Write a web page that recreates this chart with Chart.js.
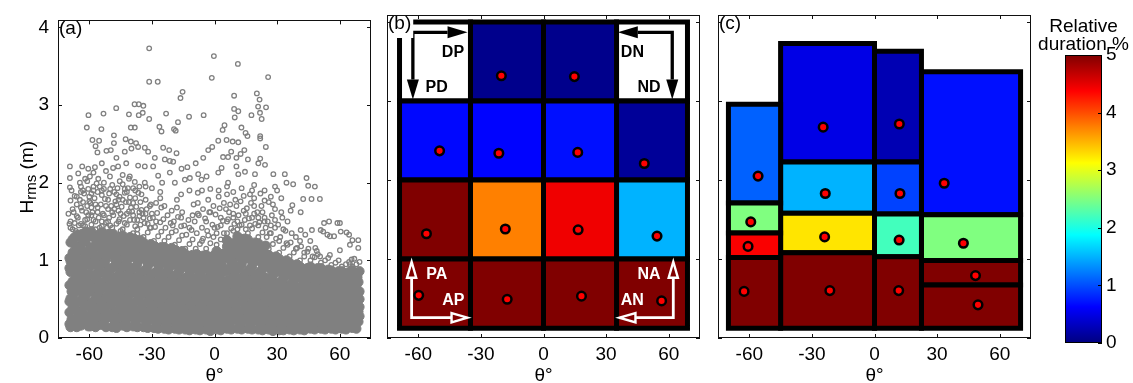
<!DOCTYPE html>
<html><head><meta charset="utf-8"><title>Hrms vs wave direction</title>
<script src="https://cdn.jsdelivr.net/npm/chart.js@4.4.1/dist/chart.umd.min.js"></script>
<style>
html,body{margin:0;padding:0;background:#fff;}
body{position:relative;width:1133px;height:383px;overflow:hidden;font-family:'Liberation Sans',Arial,sans-serif;}
canvas{position:absolute;top:0;}
</style></head><body>
<canvas id="pa" width="380" height="383" style="left:0px"></canvas>
<canvas id="pb" width="330" height="383" style="left:380px"></canvas>
<canvas id="pc" width="330" height="383" style="left:710px"></canvas>
<canvas id="cb" width="103" height="383" style="left:1030px"></canvas>
<script>
// ---------------- text & ticks ----------------
const xTickValues = [-60, -30, 0, 30, 60];
const hTickValues = [0, 1, 2, 3, 4];
const durationTickValues = [0, 1, 2, 3, 4, 5];
const xAxisLabel = 'θ°';
const yAxisLabelParts = ['H', 'rms', ' (m)'];
const colourbarTitle = ['Relative', 'duration %'];

// ---------------- panel (a): scatter of Hrms (m) vs theta (deg) ----------------
// isolated points, [theta, Hrms]
const sparseOutliers = [
[-31.3,3.73],[-0.3,3.63],[11.2,3.53],[-1.3,3.35],[25.7,3.36],[-31.3,3.30],[-27.2,3.30],[-15.3,3.17],[-16.3,3.09],[9.4,3.12],
[20.3,3.15],[21.6,3.07],[-38.3,3.01],[-36.3,3.01],[-34.1,2.99],[-34.4,2.90],[-36.3,2.87],[-47.1,2.96],[-53.2,2.89],[-60.4,2.87],
[-41.0,2.88],[-31.3,2.82],[-23.2,2.89],[-12.2,2.85],[-5.2,2.87],[9.4,2.95],[11.4,2.92],[9.7,2.84],[17.7,2.87],[20.9,2.98],
[24.7,2.97],[21.8,2.90],[22.6,2.82],[-61.2,2.71],[-54.2,2.69],[-48.2,2.61],[-40.1,2.71],[-38.2,2.71],[-26.4,2.72],[-25.4,2.66],
[-19.4,2.69],[-18.6,2.67],[-17.5,2.78],[3.9,2.68],[4.8,2.74],[12.9,2.71],[14.9,2.64],[15.8,2.60],[21.9,2.60],[-55.3,2.54],
[-48.2,2.51],[-42.6,2.56],[-40.1,2.53],[-37.6,2.51],[1.8,2.54],[5.8,2.55],[8.7,2.53],[11.4,2.52],[-57.0,2.47],[-51.8,2.41],
[-49.7,2.42],[-56.1,2.39],[-33.4,2.45],[-36.6,2.46],[-31.8,2.40],[-24.6,2.45],[-21.7,2.42],[-18.2,2.38],[-28.6,2.32],[-39.8,2.44],
[14.3,2.42],[21.9,2.57],[24.6,2.46],[-5.4,2.32],[-3.0,2.42],[-1.1,2.46],[4.1,2.33],[6.5,2.33],[10.5,2.32],[21.9,2.31],
[-69.3,2.21],[-63.4,2.21],[-60.5,2.18],[-57.3,2.20],[-48.6,2.19],[-46.2,2.21],[-42.3,2.25],[-36.6,2.22],[-33.4,2.21],[-29.4,2.21],
[-23.8,2.30],[-21.4,2.28],[-19.8,2.27],[-15.8,2.18],[-69.3,2.06],[-65.3,2.12],[-59.7,2.08],[-55.7,2.05],[-50.1,2.08],[-45.4,2.02],
[-40.6,2.08],[-38.2,2.01],[-33.4,2.00],[-27.0,2.09],[-25.1,2.00],[-21.4,2.13],[-19.0,2.00],[-14.2,2.04],[-11.8,2.06],[-7.8,2.11],
[-6.2,2.04],[-3.8,2.08],[1.8,2.13],[3.4,2.19],[6.5,2.00],[10.5,2.21],[11.4,2.11],[14.6,2.14],[19.4,2.11],[21.0,2.25],
[24.2,2.23],[28.2,2.11],[33.7,2.11],[37.7,1.98],[34.5,2.00],[44.1,2.06],[44.9,1.96],[48.1,1.95],[-69.3,1.94],[-64.5,2.00],
[42.5,1.79],[46.5,1.79],[50.5,1.79],[37.3,1.71],[36.5,1.64],[41.3,1.62],[52.5,1.48],[54.9,1.50],[58.9,1.48],[50.9,1.39],
[54.1,1.33],[57.3,1.31],[60.5,1.37],[64.5,1.33],[66.1,1.26],[41.3,1.39],[60.1,1.48],[63.3,1.36],[68.9,1.26],[64.9,1.20],
[68.9,1.16],[52.1,1.37],[55.3,1.31],[46.7,1.39],[43.5,1.33],[45.9,1.25],[48.3,1.16],[50.6,1.05],[55.3,1.07],[60.1,1.13],
[65.7,1.01],[64.9,0.95],[-16,1.85],[-12,1.9],[-8,1.87],[-2,1.92],[2,1.9],[6,1.95],[9,1.88],[13,1.93],
[17,1.85],[19,1.97],[24,1.9],[27,1.82],[29,1.95],[-26,1.88],[-30,1.93],[-44,2.1],[-52,2.15],[-58,2.13],
[-62,2.05],[-54,2.25],[-47,2.32],[-43,2.4],[-58.5,2.55],[8,2.4],[12.5,2.37],[16,2.3],[-9,2.25],[-13,2.2],
[30,1.9],[32,1.8],[28,1.72],[32,1.62],[35,1.5]
];
// band just above the dense core, flat [theta, Hrms, theta, Hrms, ...]
const midCloud = [
-69,1.42,-67,1.48,-65.5,1.55,-70,1.6,-68,1.66,-66,1.72,-69,1.5,-66.5,1.38,
-64,1.47,-62,1.52,-60.5,1.58,-63.5,1.64,-61,1.7,-64.5,1.78,-62.5,1.86,-60.5,1.92,-63,1.45,-61.5,1.62,-64,1.95,
-59,1.46,-57,1.5,-55.5,1.55,-58.5,1.62,-56,1.68,-59.5,1.74,-57.5,1.8,-56,1.88,-58,1.95,-56.5,1.99,-59,1.58,
-54,1.44,-52,1.49,-50.5,1.55,-53.5,1.6,-51,1.66,-54.5,1.72,-52.5,1.79,-50.5,1.86,-53,1.92,-51.5,1.42,-54,1.84,
-49,1.42,-47,1.47,-45.5,1.53,-48.5,1.58,-46,1.64,-49.5,1.7,-47.5,1.76,-45.5,1.82,-48,1.88,-46.5,1.93,-49,1.97,
-44,1.4,-42,1.46,-40.5,1.52,-43.5,1.57,-41,1.63,-44.5,1.69,-42.5,1.75,-40.5,1.81,-43,1.87,-41.5,1.93,-44,1.98,
-39,1.35,-37,1.4,-35.5,1.46,-38.5,1.52,-36,1.57,-39.5,1.63,-37.5,1.69,-35.5,1.75,-38,1.8,-36.5,1.87,-39,1.93,
-34,1.3,-32,1.36,-30.5,1.42,-33.5,1.48,-31,1.54,-34.5,1.6,-32.5,1.66,-30.5,1.72,-33,1.78,
-29,1.25,-27,1.31,-25.5,1.37,-28.5,1.43,-26,1.49,-29.5,1.55,-27.5,1.61,-25.5,1.68,-28,1.74,
-24,1.25,-22,1.3,-20.5,1.36,-23.5,1.42,-21,1.48,-24.5,1.53,-22.5,1.58,-20.5,1.64,
-19,1.2,-17,1.26,-15.5,1.32,-18.5,1.38,-16,1.44,-19.5,1.5,-17.5,1.56,-15.5,1.62,-18,1.68,
-14,1.15,-12,1.21,-10.5,1.27,-13.5,1.33,-11,1.39,-14.5,1.45,-12.5,1.52,-10.5,1.58,
-9,1.15,-7,1.21,-5.5,1.28,-8.5,1.35,-6,1.42,-9.5,1.5,-7.5,1.58,-5.5,1.66,-8,1.74,
-4,1.15,-2,1.22,-0.5,1.3,-3.5,1.38,-1,1.46,-4.5,1.54,-2.5,1.62,-0.5,1.7,-3,1.78,
1,1.2,3,1.27,4.5,1.35,1.5,1.43,4,1.51,0.5,1.59,2.5,1.67,4.5,1.74,
6,1.35,8,1.41,9.5,1.47,6.5,1.53,9,1.6,5.5,1.66,7.5,1.72,
11,1.4,13,1.46,14.5,1.52,11.5,1.58,14,1.64,10.5,1.7,12.5,1.76,
16,1.35,18,1.41,19.5,1.47,16.5,1.54,19,1.6,15.5,1.67,17.5,1.74,19,1.8,
21,1.3,23,1.36,24.5,1.42,21.5,1.49,24,1.55,20.5,1.62,22.5,1.7,24,1.77,
26,1.15,28,1.21,29.5,1.28,26.5,1.35,29,1.42,25.5,1.5,27.5,1.58,29,1.66,
31,1.1,33,1.16,34.5,1.22,31.5,1.3,34,1.38,30.5,1.46,32.5,1.55,
36,1.05,38,1.1,39.5,1.16,36.5,1.23,39,1.3,
41,1.0,43,1.05,44.5,1.11,41.5,1.18,
46,1.0,48,1.04,49.5,1.08,51,0.97,53,1.0,54.5,1.03,
56,0.94,58,0.97,59.5,1.0,61,0.92,63,0.95,64.5,0.98,66,0.92,68,0.95,69.5,0.98,67,1.02,
-68,1.4,-66,1.57,-64,1.68,-62,1.44,-60,1.76,-58,1.52,-56,1.62,-54,1.5,-52,1.7,-50,1.45,-48,1.66,-46,1.5,-44,1.78,-42,1.6,
-40,1.68,-38,1.44,-36,1.62,-34,1.55,-32,1.47,-30,1.6,-67,1.83,-63,1.9,-59,1.86,-55,1.95,-51,1.78,-47,1.85,-43,1.92,-39,1.74,
-35,1.85,-31,1.7,-65,1.35,-57,1.4,-53,1.36,-45,1.38,-37,1.34,-69,1.77,-61,2.02,-53,2.0,-41,2.05,-33,1.95,
1,1.35,3,1.55,5,1.25,7,1.62,9,1.38,11,1.5,13,1.3,15,1.6,17,1.45,19,1.7,21,1.55,23,1.62,25,1.3,27,1.45,29,1.52,
2,1.82,6,1.85,10,1.78,14,1.83,18,1.9,22,1.86,26,1.75,
-28,1.5,-24,1.7,-20,1.45,-16,1.55,-12,1.42,-8,1.6,-4,1.5,-26,1.8,-18,1.78,-10,1.72,-6,1.9,-2,1.62,
31,1.25,33,1.4,35,1.2,37,1.35,39,1.15,41,1.25,43,1.1,45,1.15,47,1.05,49,1.12,
-69.5,1.47,-67.5,1.62,-65,1.45,-63,1.75,-61,1.53,-59,1.68,-57,1.72,-55,1.42,-53,1.58,-51,1.5,-49,1.62,-47,1.72,-45,1.6,-43,1.48,
-41,1.75,-39,1.58,-37,1.52,-35,1.65,-33,1.6,-31,1.42,-68.5,1.9,-66,1.82,-64,1.88,-60,1.82,-58,1.9,-54,1.9,-50,1.92,-46,1.78,
-42,1.88,-38,1.9,-36,1.95,-6,1.25,-3,1.32,0,1.42,3,1.45,6,1.5,9,1.55,12,1.45,15,1.4,18,1.55,21,1.45,24,1.5,27,1.35
];
// dense core of the cloud (estimated), flat [theta, Hrms, ...]
const coreWest = [
-69,.14,-67,.2,-65.5,.27,-69.5,.33,-68,.39,-66,.45,-69,.51,-67.5,.56,-65.5,.62,-69.5,.68,-68,.73,-66.5,.79,-69,.85,-67,.91,-65.5,.97,-69.5,1.03,-68,1.1,-66,1.16,-69,1.23,-67,1.3,-65.5,1.33,-68.5,.24,-66.5,.36,-69.5,.47,-67.5,.66,-65.5,.84,-69,.99,-67,1.2,-66,.14,-68.5,.6,-69.5,.9,-66.5,1.07,-68,1.27,-69.5,.18,
-64,.16,-62.5,.22,-60.5,.29,-63.5,.35,-61.5,.41,-64.5,.48,-62,.53,-60.5,.59,-63,.65,-64.5,.71,-61.5,.76,-60.5,.83,-63.5,.88,-62,.94,-64,1.0,-61,1.06,-63,1.12,-64.5,1.18,-62,1.24,-60.5,1.3,-63.5,1.34,-61.5,1.37,-64,.3,-62.5,.44,-60.5,.15,-63,.56,-61.5,.68,-64,.8,-62,1.08,-60.5,.98,-63.5,1.27,-61,.19,-64.5,.92,-62.5,.62,
-59.5,.15,-57.5,.21,-56,.28,-58.5,.34,-55.5,.4,-59,.46,-57,.52,-55.5,.58,-58,.64,-59.5,.7,-56.5,.75,-58,.81,-55.5,.87,-59,.93,-57,.99,-56,1.05,-58.5,1.11,-59.5,1.17,-56.5,1.23,-57.5,1.29,-55.5,1.33,-59,1.37,-57.5,.38,-56,.5,-59.5,.6,-55.5,.71,-58,.95,-56.5,1.17,-59,1.31,-57,.14,-58.5,.25,-56,.83,-57.5,1.04,-59.5,.44,
-54.5,.17,-52.5,.23,-51,.3,-53.5,.36,-50.5,.42,-54,.47,-52,.53,-50.5,.6,-53,.66,-54.5,.72,-51.5,.78,-53.5,.84,-50.5,.9,-54,.95,-52,1.01,-51,1.07,-53.5,1.13,-54.5,1.19,-51.5,1.25,-52.5,1.31,-50.5,1.34,-54,1.36,-52.5,.39,-51,.51,-54.5,.63,-50.5,.74,-53,.97,-51.5,1.19,-54,1.28,-52,.14,-53.5,.27,-51,.86,-52.5,1.06,-54.5,.45,
-49,.14,-47.5,.19,-46,.26,-48.5,.32,-45.5,.37,-49.5,.43,-47,.49,-45.5,.55,-48,.61,-49,.67,-46.5,.72,-48,.78,-45.5,.84,-49.5,.89,-47,.95,-46,1.01,-48.5,1.07,-49,1.13,-46.5,1.19,-47.5,1.25,-45.5,1.3,-48.5,1.34,-47.5,.35,-46,.46,-49.5,.58,-45.5,.65,-48,.92,-46.5,1.1,-49,1.22,-47,.13,-48.5,.24,-46,.8,-47.5,1.0,-49.5,.76,
-44,.16,-42.5,.22,-41,.28,-43.5,.34,-40.5,.4,-44.5,.46,-42,.51,-40.5,.57,-43,.63,-44.5,.69,-41.5,.74,-43.5,.8,-40.5,.86,-44,.91,-42,.97,-41,1.03,-43.5,1.09,-44.5,1.15,-41.5,1.21,-42.5,1.27,-40.5,1.3,-44,1.32,-42.5,.37,-41,.48,-44.5,.6,-40.5,.71,-43,.94,-41.5,1.14,-44,1.25,-42,.14,-43.5,.26,-41,.83,-42.5,1.05,-44.5,.42,
-39,.15,-37.5,.21,-36,.27,-38.5,.33,-35.5,.38,-39.5,.44,-37,.5,-35.5,.56,-38,.61,-39,.67,-36.5,.73,-38,.78,-35.5,.84,-39.5,.9,-37,.95,-36,1.01,-38.5,1.07,-39,1.13,-36.5,1.19,-37.5,1.24,-35.5,1.26,-38.5,1.28,-37.5,.36,-36,.47,-39.5,.59,-35.5,.66,-38,.9,-36.5,1.1,-39,1.2,-37,.14,-38.5,.25,-36,.8,-37.5,1.02,-39.5,.75
];
const coreCentre = [
-34,.14,-32.5,.2,-31,.26,-33.5,.31,-30.5,.37,-34.5,.42,-32,.48,-30.5,.53,-33,.59,-34.5,.64,-31.5,.7,-33.5,.75,-30.5,.81,-34,.86,-32,.92,-31,.97,-33.5,1.03,-34.5,1.08,-31.5,1.14,-32.5,1.19,-30.5,1.21,-34,1.23,-32.5,.34,-31,.45,-34.5,.56,-30.5,.67,-33,.88,-31.5,1.06,-34,1.16,-32,.13,-33.5,.24,-31,.78,-32.5,.99,-34.5,.72,
-29,.13,-27.5,.19,-26,.24,-28.5,.3,-25.5,.35,-29.5,.4,-27,.46,-25.5,.51,-28,.56,-29,.62,-26.5,.67,-28,.72,-25.5,.78,-29.5,.83,-27,.88,-26,.94,-28.5,.99,-29,1.04,-26.5,1.1,-27.5,1.15,-25.5,1.17,-28.5,1.18,-27.5,.33,-26,.43,-29.5,.54,-25.5,.64,-28,.85,-26.5,1.02,-29,1.12,-27,.12,-28.5,.22,-26,.75,-27.5,.96,-29.5,.7,
-24,.12,-22.5,.18,-21,.24,-23.5,.29,-20.5,.34,-24.5,.4,-22,.45,-20.5,.5,-23,.56,-24.5,.61,-21.5,.66,-23.5,.72,-20.5,.77,-24,.82,-22,.88,-21,.93,-23.5,.98,-24.5,1.04,-21.5,1.09,-22.5,1.14,-20.5,1.16,-24,1.17,-22.5,.32,-21,.42,-24.5,.53,-20.5,.63,-23,.85,-21.5,1.01,-24,1.12,-22,.11,-23.5,.21,-21,.74,-22.5,.95,-24.5,.69,
-19,.12,-17.5,.17,-16,.23,-18.5,.28,-15.5,.33,-19.5,.38,-17,.44,-15.5,.49,-18,.54,-19,.59,-16.5,.64,-18,.7,-15.5,.75,-19.5,.8,-17,.85,-16,.9,-18.5,.95,-19,1.0,-16.5,1.05,-17.5,1.1,-15.5,1.12,-18.5,1.13,-17.5,.31,-16,.41,-19.5,.51,-15.5,.61,-18,.82,-16.5,.98,-19,1.08,-17,.11,-18.5,.2,-16,.72,-17.5,.92,-19.5,.67,
-14,.11,-12.5,.16,-11,.22,-13.5,.27,-10.5,.32,-14.5,.37,-12,.42,-10.5,.47,-13,.52,-14.5,.57,-11.5,.62,-13.5,.67,-10.5,.72,-14,.77,-12,.82,-11,.87,-13.5,.92,-14.5,.97,-11.5,1.02,-12.5,1.06,-10.5,1.07,-14,1.08,-12.5,.3,-11,.4,-14.5,.49,-10.5,.59,-13,.79,-11.5,.94,-14,1.04,-12,.1,-13.5,.19,-11,.69,-12.5,.89,-14.5,.65,
-9,.11,-7.5,.16,-6,.21,-8.5,.26,-5.5,.31,-9.5,.36,-7,.41,-5.5,.46,-8,.51,-9,.56,-6.5,.61,-8,.66,-5.5,.71,-9.5,.76,-7,.81,-6,.86,-8.5,.91,-9,.96,-6.5,1.01,-7.5,1.05,-5.5,1.06,-8.5,1.08,-7.5,.29,-6,.39,-9.5,.48,-5.5,.58,-8,.78,-6.5,.93,-9,1.03,-7,.1,-8.5,.18,-6,.68,-7.5,.88,-9.5,.64,
-4,.11,-2.5,.15,-1,.2,-3.5,.25,-0.5,.3,-4.5,.35,-2,.4,-0.5,.45,-3,.5,-4.5,.55,-1.5,.6,-3.5,.65,-0.5,.7,-4,.75,-2,.8,-1,.85,-3.5,.9,-4.5,.95,-1.5,1.0,-2.5,1.04,-0.5,1.06,-4,1.07,-2.5,.28,-1,.38,-4.5,.47,-0.5,.57,-3,.77,-1.5,.92,-4,1.02,-2,.09,-3.5,.17,-1,.67,-2.5,.87,-4.5,.63,
1,.11,2.5,.16,4,.22,1.5,.27,4.5,.32,.5,.37,3,.42,4.5,.47,2,.52,.5,.57,3.5,.62,1.5,.67,4.5,.72,1,.77,3,.82,4,.87,1.5,.92,.5,.97,3.5,1.02,2.5,1.07,4.5,1.09,1,1.12,2.5,.3,4,.4,.5,.49,4.5,.59,2,.79,3.5,.94,1,1.05,3,.1,1.5,.19,4,.69,2.5,.89,.5,.65,
6,.12,7.5,.18,9,.24,6.5,.3,9.5,.35,5.5,.41,8,.47,9.5,.52,7,.58,5.5,.64,8.5,.69,6.5,.75,9.5,.81,6,.86,8,.92,9,.98,6.5,1.03,5.5,1.09,8.5,1.15,7.5,1.2,9.5,1.23,6,1.26,7.5,.33,9,.44,5.5,.55,9.5,.66,7,.89,8.5,1.06,6,1.18,8,.11,6.5,.21,9,.78,7.5,1.0,5.5,.72,
11,.12,12.5,.18,14,.25,11.5,.31,14.5,.36,10.5,.42,13,.48,14.5,.54,12,.6,10.5,.66,13.5,.71,11.5,.77,14.5,.83,11,.89,13,.95,14,1.01,11.5,1.07,10.5,1.13,13.5,1.19,12.5,1.25,14.5,1.28,11,1.31,12.5,.34,14,.45,10.5,.57,14.5,.68,12,.92,13.5,1.1,11,1.22,13,.11,11.5,.22,14,.8,12.5,1.04,10.5,.74,
16,.12,17.5,.18,19,.24,16.5,.3,19.5,.35,15.5,.41,18,.47,19.5,.52,17,.58,15.5,.64,18.5,.69,16.5,.75,19.5,.81,16,.86,18,.92,19,.98,16.5,1.03,15.5,1.09,18.5,1.15,17.5,1.2,19.5,1.23,16,1.27,17.5,.33,19,.44,15.5,.55,19.5,.66,17,.89,18.5,1.06,16,1.18,18,.11,16.5,.21,19,.78,17.5,1.0,15.5,.72,
21,.11,22.5,.17,24,.23,21.5,.28,24.5,.34,20.5,.39,23,.45,24.5,.5,22,.56,20.5,.61,23.5,.67,21.5,.72,24.5,.78,21,.83,23,.89,24,.94,21.5,1.0,20.5,1.05,23.5,1.11,22.5,1.16,24.5,1.19,21,1.22,22.5,.31,24,.42,20.5,.53,24.5,.64,22,.86,23.5,1.02,21,1.14,23,.1,21.5,.2,24,.75,22.5,.97,20.5,.7
];
const coreEast = [
26,.11,27.5,.15,29,.2,26.5,.25,29.5,.3,25.5,.35,28,.4,29.5,.45,27,.5,25.5,.55,28.5,.6,26.5,.65,29.5,.7,26,.75,28,.8,29,.85,26.5,.9,25.5,.95,28.5,1.0,27.5,1.03,29.5,1.05,26,1.07,27.5,.28,29,.38,25.5,.47,29.5,.57,27,.77,28.5,.92,26,1.02,28,.09,26.5,.17,29,.67,27.5,.87,25.5,.63,
31,.1,32.5,.15,34,.2,31.5,.24,34.5,.29,30.5,.34,33,.38,34.5,.43,32,.48,30.5,.52,33.5,.57,31.5,.62,34.5,.66,31,.71,33,.76,34,.8,31.5,.85,30.5,.9,33.5,.94,32.5,.97,34.5,1.0,31,1.02,32.5,.27,34,.36,30.5,.45,34.5,.55,32,.73,33.5,.88,31,.96,33,.1,31.5,.17,34,.64,32.5,.83,30.5,.6,
36,.11,37.5,.14,39,.19,36.5,.23,39.5,.28,35.5,.32,38,.37,39.5,.41,37,.46,35.5,.5,38.5,.54,36.5,.59,39.5,.63,36,.68,38,.72,39,.77,36.5,.81,35.5,.85,38.5,.9,37.5,.93,39.5,.95,36,.97,37.5,.26,39,.35,35.5,.43,39.5,.52,37,.7,38.5,.84,36,.92,38,.1,36.5,.16,39,.61,37.5,.79,35.5,.57,
41,.11,42.5,.15,44,.19,41.5,.24,44.5,.28,40.5,.32,43,.36,44.5,.4,42,.45,40.5,.49,43.5,.53,41.5,.57,44.5,.61,41,.65,43,.69,44,.73,41.5,.77,40.5,.81,43.5,.85,42.5,.88,44.5,.9,41,.92,42.5,.26,44,.34,40.5,.42,44.5,.5,42,.67,43.5,.8,41,.87,43,.1,41.5,.17,44,.59,42.5,.75,40.5,.55,
46,.12,47.5,.16,49,.2,46.5,.24,49.5,.28,45.5,.33,48,.37,49.5,.41,47,.45,45.5,.49,48.5,.53,46.5,.57,49.5,.61,46,.65,48,.69,49,.73,46.5,.77,45.5,.81,48.5,.85,47.5,.88,49.5,.9,46,.92,47.5,.27,49,.35,45.5,.43,49.5,.51,47,.67,48.5,.8,46,.87,48,.11,46.5,.18,49,.59,47.5,.75,45.5,.55,
51,.12,52.5,.16,54,.2,51.5,.24,54.5,.28,50.5,.32,53,.36,54.5,.4,52,.44,50.5,.48,53.5,.52,51.5,.56,54.5,.6,51,.64,53,.68,54,.72,51.5,.76,50.5,.8,53.5,.84,52.5,.86,54.5,.88,51,.9,52.5,.26,54,.34,50.5,.42,54.5,.5,52,.66,53.5,.78,51,.85,53,.11,51.5,.18,54,.58,52.5,.74,50.5,.54,
56,.12,57.5,.16,59,.2,56.5,.24,59.5,.28,55.5,.31,58,.35,59.5,.39,57,.43,55.5,.47,58.5,.51,56.5,.55,59.5,.59,56,.63,58,.67,59,.71,56.5,.75,55.5,.79,58.5,.82,57.5,.84,59.5,.86,56,.87,57.5,.26,59,.33,55.5,.41,59.5,.49,57,.65,58.5,.77,56,.83,58,.11,56.5,.18,59,.57,57.5,.73,55.5,.53,
61,.12,62.5,.16,64,.2,61.5,.24,64.5,.27,60.5,.31,63,.35,64.5,.39,62,.43,60.5,.47,63.5,.51,61.5,.55,64.5,.59,61,.63,63,.67,64,.71,61.5,.74,60.5,.78,63.5,.81,62.5,.83,64.5,.85,61,.86,62.5,.26,64,.33,60.5,.41,64.5,.49,62,.65,63.5,.77,61,.82,63,.11,61.5,.18,64,.57,62.5,.72,60.5,.53,
66,.13,67.5,.17,69,.21,66.5,.25,69.5,.28,65.5,.32,68,.36,69.5,.4,67,.44,65.5,.48,68.5,.52,66.5,.56,69.5,.6,66,.64,68,.68,69,.72,66.5,.75,65.5,.79,68.5,.82,67.5,.84,69.5,.86,66,.87,67.5,.27,69,.34,65.5,.42,69.5,.5,67,.66,68.5,.78,66,.83,68,.12,66.5,.19,69,.58,67.5,.73,65.5,.54
];

// ---------------- panel (b): regular bins ----------------
const bThetaEdges = [-69, -35, 0, 35, 69];
const bHEdges = [0.125, 1, 2, 3, 4];
// relative duration % per cell, rows bottom->top, columns west->east (null = no data)
const bDuration = [
  [5, 5, 5, 5],
  [5, 3.75, 4.45, 1.5],
  [0.66, 0.64, 0.7, 0.12],
  [null, 0.06, 0.06, null]
];
const bCentroidTheta = [[-59.8, -17.4, 18.2, 56.6], [-56.1, -18.3, 16.6, 54.4], [-49.8, -21.4, 16.4, 48.3], [null, -20.2, 14.8, null]];
const bCentroidH = [[0.54, 0.49, 0.53, 0.47], [1.32, 1.38, 1.37, 1.29], [2.37, 2.34, 2.35, 2.21], [null, 3.32, 3.31, null]];
const bFlowLabels = ['DP', 'PD', 'DN', 'ND', 'PA', 'AP', 'NA', 'AN'];
const bFlowLabelTheta = [-43.4, -51.2, 42.6, 50.6, -51.1, -43.2, 50.6, 42.5];
const bFlowLabelH = [3.63, 3.18, 3.63, 3.18, 0.82, 0.49, 0.82, 0.49];
// arrow paths (theta, H): end A, corner, end B
const bArrowTheta = [[-36.4, -62.6, -62.6], [35.6, 61.7, 61.7], [-63.2, -63.2, -36.4], [62.2, 62.2, 36.4]];
const bArrowH = [[3.87, 3.87, 3.02], [3.87, 3.87, 3.02], [0.965, 0.257, 0.257], [0.965, 0.257, 0.257]];

// ---------------- panel (c): adaptive bins ----------------
const cThetaEdges = [-70, -45, 0, 22.5, 70];
const cHEdges = [
  [0.125, 1.02, 1.33, 1.71, 2.96],
  [0.125, 1.08, 1.58, 2.23, 3.73],
  [0.125, 1.03, 1.57, 2.23, 3.63],
  [0.125, 0.67, 0.98, 1.56, 3.37]
];
// per column, bottom->top
const cDuration = [
  [5, 4.4, 2.5, 1.1],
  [5, 3.25, 1.5, 0.5],
  [5, 2.2, 0.95, 0.25],
  [5, 5, 2.5, 0.7]
];
const cCentroidTheta = [[-62.5, -60.6, -59.3, -55.8], [-21.4, -23.9, -23.6, -24.6], [11.6, 11.8, 12.2, 11.9], [49.6, 48.4, 42.6, 33.4]];
const cCentroidH = [[0.59, 1.16, 1.47, 2.05], [0.60, 1.28, 1.83, 2.67], [0.60, 1.24, 1.83, 2.71], [0.42, 0.79, 1.20, 1.96]];

// ---------------- helpers ----------------
const FONT = "'Liberation Sans', Arial, Helvetica, sans-serif";
const GREY = '#808080';
const clamp01 = v => Math.max(0, Math.min(1, v));
function jet(v) {
  const t = clamp01(v / 5);
  const r = clamp01(1.5 - Math.abs(4 * t - 3)), g = clamp01(1.5 - Math.abs(4 * t - 2)), b = clamp01(1.5 - Math.abs(4 * t - 1));
  return 'rgb(' + Math.round(r * 255) + ',' + Math.round(g * 255) + ',' + Math.round(b * 255) + ')';
}
const flatToPts = f => { const o = []; for (let i = 0; i < f.length; i += 2) o.push({x: f[i], y: f[i + 1]}); return o; };

function cellDataset(x0, x1, y0, y1, val) {
  return {
    data: [{x: x0, y: y0}, {x: x1, y: y0}, {x: x1, y: y1}, {x: x0, y: y1}, {x: x0, y: y0}],
    showLine: true, fill: 'shape', backgroundColor: val == null ? '#ffffff' : jet(val),
    borderColor: '#000', borderWidth: 5, borderJoinStyle: 'miter', borderCapStyle: 'square',
    pointRadius: 0, tension: 0, order: 1, clip: false
  };
}
function dotDataset(pts) {
  return {data: pts, pointRadius: 4.3, borderWidth: 2.5, backgroundColor: '#ff0000', borderColor: '#000', order: 0, showLine: false, clip: false};
}

const frameTicks = {
  id: 'frameTicks',
  afterDraw(chart, args, opts) {
    const {ctx, chartArea: a, scales: {x, y}} = chart;
    ctx.save();
    if (opts.letter) {
      ctx.font = '19px ' + FONT;
      const w = ctx.measureText(opts.letter).width;
      ctx.fillStyle = '#fff';
      ctx.fillRect(a.left, a.top, w + 3, 23);
      ctx.fillStyle = '#000'; ctx.textAlign = 'left'; ctx.textBaseline = 'top';
      ctx.fillText(opts.letter, a.left + 1, a.top - 1);
    }
    ctx.strokeStyle = '#111'; ctx.lineWidth = 1;
    const L = 4;
    ctx.beginPath();
    x.ticks.forEach(t => { const p = Math.round(x.getPixelForValue(t.value)) + 0.5; ctx.moveTo(p, a.bottom); ctx.lineTo(p, a.bottom - L); ctx.moveTo(p, a.top); ctx.lineTo(p, a.top + L); });
    y.ticks.forEach(t => { const p = Math.round(y.getPixelForValue(t.value)) + 0.5; ctx.moveTo(a.left, p); ctx.lineTo(a.left + L, p); ctx.moveTo(a.right, p); ctx.lineTo(a.right - L, p); });
    ctx.stroke();
    ctx.strokeRect(Math.round(a.left) + 0.5, Math.round(a.top) + 0.5, Math.round(a.width) - 1, Math.round(a.height) - 1);
    ctx.restore();
  }
};

const yTitle = {
  id: 'yTitle',
  afterDraw(chart) {
    const {ctx, chartArea: a} = chart;
    ctx.save(); ctx.fillStyle = '#000'; ctx.textAlign = 'left'; ctx.textBaseline = 'alphabetic';
    const big = '19px ' + FONT, small = '15px ' + FONT;
    ctx.font = big; const w0 = ctx.measureText(yAxisLabelParts[0]).width, w2 = ctx.measureText(yAxisLabelParts[2]).width;
    ctx.font = small; const w1 = ctx.measureText(yAxisLabelParts[1]).width;
    const total = w0 + w1 + w2, cy = (a.top + a.bottom) / 2 - 2;
    ctx.translate(a.left - 24.7, cy + total / 2); ctx.rotate(-Math.PI / 2);
    ctx.font = big; ctx.fillText(yAxisLabelParts[0], 0, 0);
    ctx.font = small; ctx.fillText(yAxisLabelParts[1], w0, 3);
    ctx.font = big; ctx.fillText(yAxisLabelParts[2], w0 + w1, 0);
    ctx.restore();
  }
};

const flowArrows = {
  id: 'flowArrows',
  afterDatasetsDraw(chart) {
    const {ctx, scales: {x, y}} = chart;
    ctx.save();
    bArrowTheta.forEach((th, i) => {
      const P = th.map((t, k) => ({x: x.getPixelForValue(t), y: y.getPixelForValue(bArrowH[i][k])}));
      const hollow = i >= 2, col = hollow ? '#fff' : '#000';
      const len = hollow ? 16 : 20, hw = hollow ? 4.6 : 6;
      const head = (tip, from) => {
        const dx = tip.x - from.x, dy = tip.y - from.y, d = Math.hypot(dx, dy), ux = dx / d, uy = dy / d;
        const bx = tip.x - ux * len, by = tip.y - uy * len;
        return {base: {x: bx, y: by}, pts: [tip, {x: bx - uy * hw, y: by + ux * hw}, {x: bx + uy * hw, y: by - ux * hw}]};
      };
      const hA = head(P[0], P[1]), hB = head(P[2], P[1]);
      ctx.strokeStyle = col; ctx.fillStyle = col; ctx.lineJoin = 'miter'; ctx.lineCap = 'butt';
      ctx.lineWidth = hollow ? 2.8 : 3.3;
      ctx.beginPath(); ctx.moveTo(hA.base.x, hA.base.y); ctx.lineTo(P[1].x, P[1].y); ctx.lineTo(hB.base.x, hB.base.y); ctx.stroke();
      [hA, hB].forEach(h => {
        ctx.beginPath(); ctx.moveTo(h.pts[0].x, h.pts[0].y); ctx.lineTo(h.pts[1].x, h.pts[1].y); ctx.lineTo(h.pts[2].x, h.pts[2].y); ctx.closePath();
        if (hollow) { ctx.lineWidth = 2.4; ctx.stroke(); } else { ctx.fill(); }
      });
    });
    ctx.font = 'bold 16px ' + FONT; ctx.textAlign = 'center'; ctx.textBaseline = 'middle';
    bFlowLabels.forEach((t, i) => {
      ctx.fillStyle = i < 4 ? '#000' : '#fff';
      ctx.fillText(t, x.getPixelForValue(bFlowLabelTheta[i]), y.getPixelForValue(bFlowLabelH[i]) + 1);
    });
    ctx.restore();
  }
};

function xScale() {
  return {
    type: 'linear', min: -75, max: 75,
    afterBuildTicks: s => { s.ticks = xTickValues.map(v => ({value: v})); },
    afterFit: s => { s.height = 45; },
    grid: {display: false, drawTicks: false}, border: {display: false},
    ticks: {font: {family: FONT, size: 19}, color: '#000', padding: 5, autoSkip: false, maxRotation: 0},
    title: {display: true, text: xAxisLabel, font: {family: FONT, size: 19, lineHeight: 0.8}, color: '#000', padding: 0}
  };
}
function yScale(show) {
  return {
    type: 'linear', min: 0, max: 4.09, display: show,
    afterBuildTicks: s => { s.ticks = hTickValues.map(v => ({value: v})); },
    afterFit: s => { s.width = show ? 58 : 0; },
    grid: {display: false, drawTicks: false}, border: {display: false},
    ticks: {font: {family: FONT, size: 19}, color: '#000', padding: 9}
  };
}
function panelOptions(letter, showY, padL, padR) {
  return {
    responsive: false, animation: false, events: [], devicePixelRatio: 1,
    layout: {padding: {left: padL, right: padR, top: 15, bottom: 0}},
    plugins: {legend: {display: false}, tooltip: {enabled: false}, frameTicks: {letter: letter}},
    scales: {x: xScale(), y: yScale(showY)}
  };
}

// ---------------- chart (a) ----------------
const hollowStyle = {pointRadius: 2.3, borderWidth: 1.3, borderColor: GREY, backgroundColor: 'rgba(0,0,0,0)'};
new Chart(document.getElementById('pa'), {
  type: 'scatter',
  data: {datasets: [
    Object.assign({data: sparseOutliers.map(p => ({x: p[0], y: p[1]}))}, hollowStyle),
    Object.assign({data: flatToPts(midCloud)}, hollowStyle),
    {data: flatToPts(coreWest).concat(flatToPts(coreCentre), flatToPts(coreEast)), pointRadius: 4.6, borderWidth: 1, borderColor: GREY, backgroundColor: GREY}
  ]},
  options: panelOptions('(a)', true, 0, 9),
  plugins: [frameTicks, yTitle]
});

// ---------------- chart (b) ----------------
(function () {
  const ds = [];
  const dots = [];
  bDuration.forEach((row, r) => row.forEach((v, c) => {
    ds.push(cellDataset(bThetaEdges[c], bThetaEdges[c + 1], bHEdges[r], bHEdges[r + 1], v));
    if (bCentroidTheta[r][c] != null) dots.push({x: bCentroidTheta[r][c], y: bCentroidH[r][c]});
  }));
  ds.unshift(dotDataset(dots));
  new Chart(document.getElementById('pb'), {type: 'scatter', data: {datasets: ds}, options: panelOptions('(b)', false, 7, 10), plugins: [flowArrows, frameTicks]});
})();

// ---------------- chart (c) ----------------
(function () {
  const ds = [];
  const dots = [];
  cDuration.forEach((col, c) => col.forEach((v, r) => {
    ds.push(cellDataset(cThetaEdges[c], cThetaEdges[c + 1], cHEdges[c][r], cHEdges[c][r + 1], v));
    dots.push({x: cCentroidTheta[c][r], y: cCentroidH[c][r]});
  }));
  ds.unshift(dotDataset(dots));
  new Chart(document.getElementById('pc'), {type: 'scatter', data: {datasets: ds}, options: panelOptions('(c)', false, 8, 9), plugins: [frameTicks]});
})();

// ---------------- colour bar ----------------
function jetGradient(chart) {
  const a = chart.chartArea;
  if (!a) return '#800000';
  const g = chart.ctx.createLinearGradient(0, a.bottom, 0, a.top);
  for (let i = 0; i <= 40; i++) g.addColorStop(i / 40, jet(i / 40 * 5));
  return g;
}
const cbDecor = {
  id: 'cbDecor',
  afterDraw(chart) {
    const {ctx, chartArea: a, scales: {y}} = chart;
    ctx.save();
    ctx.fillStyle = '#000'; ctx.font = '19px ' + FONT; ctx.textAlign = 'center'; ctx.textBaseline = 'alphabetic';
    const cx = (a.left + a.right) / 2;
    ctx.fillText(colourbarTitle[0], cx, a.top - 23.3);
    ctx.fillText(colourbarTitle[1], cx, a.top - 5);
    ctx.strokeStyle = '#000'; ctx.lineWidth = 1; ctx.beginPath();
    y.ticks.forEach(t => { const p = Math.round(y.getPixelForValue(t.value)) + 0.5; ctx.moveTo(a.right, p); ctx.lineTo(a.right - 4, p); });
    ctx.stroke();
    ctx.strokeRect(Math.round(a.left) + 0.5, Math.round(a.top) + 0.5, Math.round(a.width) - 1, Math.round(a.height) - 1);
    ctx.restore();
  }
};
new Chart(document.getElementById('cb'), {
  type: 'bar',
  data: {labels: [''], datasets: [{data: [[0, 5]], backgroundColor: c => jetGradient(c.chart), borderWidth: 0, barPercentage: 1, categoryPercentage: 1}]},
  options: {
    responsive: false, animation: false, events: [], devicePixelRatio: 1,
    layout: {padding: {left: 35, right: 0, top: 55, bottom: 40}},
    plugins: {legend: {display: false}, tooltip: {enabled: false}},
    scales: {
      x: {display: false},
      y: {position: 'right', min: 0, max: 5,
          afterBuildTicks: s => { s.ticks = durationTickValues.map(v => ({value: v})); },
          afterFit: s => { s.width = 31; },
          grid: {display: false, drawTicks: false}, border: {display: false},
          ticks: {font: {family: FONT, size: 19}, color: '#000', padding: 4}}
    }
  },
  plugins: [cbDecor]
});
</script></body></html>
